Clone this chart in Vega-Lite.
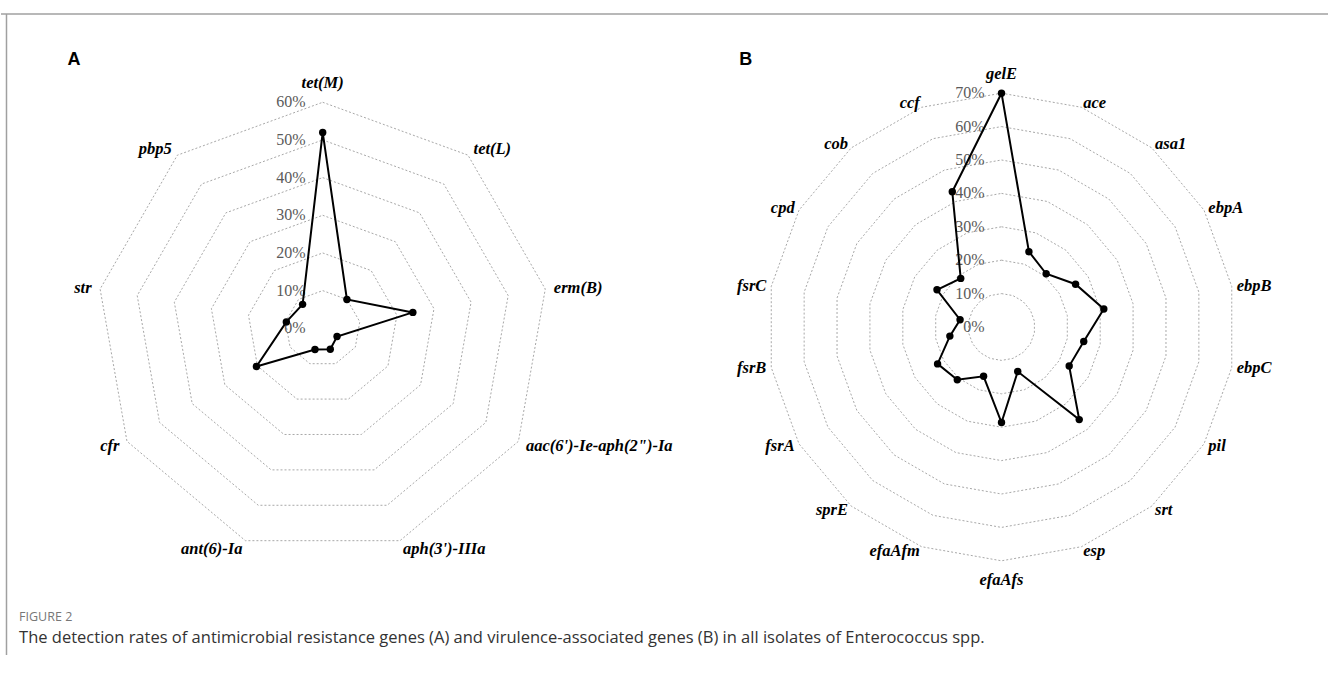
{
  "$schema": "https://vega.github.io/schema/vega-lite/v6.json",
  "background": "white",
  "padding": 0,
  "spacing": 0,
  "bounds": "flush",
  "config": {"view": {"stroke": null}},
  "hconcat": [
    {
      "width": 664,
      "height": 675,
      "data": {"values": [
        {"gene": "tet(M)", "rate": 52.0},
        {"gene": "tet(L)", "rate": 10.0},
        {"gene": "erm(B)", "rate": 24.3},
        {"gene": "aac(6')-Ie-aph(2\")-Ia", "rate": 4.4},
        {"gene": "aph(3')-IIIa", "rate": 5.9},
        {"gene": "ant(6)-Ia", "rate": 6.0},
        {"gene": "cfr", "rate": 20.3},
        {"gene": "str", "rate": 9.8},
        {"gene": "pbp5", "rate": 8.3}
      ]},
      "transform": [
        {"window": [{"op": "row_number", "as": "k"}]},
        {"calculate": "(datum.k - 1) * 2 * PI / 9", "as": "ang"},
        {"calculate": "datum.rate * sin(datum.ang)", "as": "px"},
        {"calculate": "datum.rate * cos(datum.ang)", "as": "py"},
        {"calculate": "abs(sin(datum.ang)) < 0.01 ? 65 : 62.3", "as": "lr"},
        {"calculate": "datum.lr * sin(datum.ang)", "as": "lx"},
        {"calculate": "datum.lr * cos(datum.ang)", "as": "ly"}
      ],
      "layer": [
        {
          "transform": [
            {"calculate": "[10,20,30,40,50,60]", "as": "lv"},
            {"flatten": ["lv"]},
            {"calculate": "datum.lv * sin(datum.ang)", "as": "rx"},
            {"calculate": "datum.lv * cos(datum.ang)", "as": "ry"}
          ],
          "mark": {"type": "line", "interpolate": "linear-closed", "stroke": "#a8a8a8", "strokeWidth": 1, "strokeDash": [2, 2]},
          "encoding": {
            "x": {"field": "rx", "type": "quantitative", "scale": {"domain": [-85.40, 90.87], "nice": false, "zero": false}, "axis": null},
            "y": {"field": "ry", "type": "quantitative", "scale": {"domain": [-92.04, 87.15], "nice": false, "zero": false}, "axis": null},
            "detail": {"field": "lv", "type": "nominal"},
            "order": {"field": "k", "type": "quantitative"}
          }
        },
        {
          "transform": [
            {"filter": "datum.k == 1"},
            {"calculate": "[0,10,20,30,40,50,60]", "as": "lv"},
            {"flatten": ["lv"]},
            {"calculate": "datum.lv + '%'", "as": "tl"}
          ],
          "mark": {"type": "text", "align": "right", "baseline": "middle", "dx": -17, "font": "Liberation Serif", "fontSize": 16, "color": "#5a5a5a"},
          "encoding": {
            "x": {"datum": 0, "type": "quantitative", "scale": {"domain": [-85.40, 90.87], "nice": false, "zero": false}, "axis": null},
            "y": {"field": "lv", "type": "quantitative", "scale": {"domain": [-92.04, 87.15], "nice": false, "zero": false}, "axis": null},
            "text": {"field": "tl"}
          }
        },
        {
          "mark": {"type": "line", "interpolate": "linear-closed", "stroke": "black", "strokeWidth": 2},
          "encoding": {
            "x": {"field": "px", "type": "quantitative", "scale": {"domain": [-85.40, 90.87], "nice": false, "zero": false}, "axis": null},
            "y": {"field": "py", "type": "quantitative", "scale": {"domain": [-92.04, 87.15], "nice": false, "zero": false}, "axis": null},
            "order": {"field": "k", "type": "quantitative"}
          }
        },
        {
          "mark": {"type": "point", "filled": true, "size": 55, "color": "black", "opacity": 1},
          "encoding": {
            "x": {"field": "px", "type": "quantitative", "scale": {"domain": [-85.40, 90.87], "nice": false, "zero": false}, "axis": null},
            "y": {"field": "py", "type": "quantitative", "scale": {"domain": [-92.04, 87.15], "nice": false, "zero": false}, "axis": null}
          }
        },
        {
          "transform": [{"filter": "sin(datum.ang) > 0.01"}],
          "mark": {"type": "text", "align": "left", "baseline": "middle", "font": "Liberation Serif", "fontSize": 16.5, "fontStyle": "italic", "fontWeight": "bold", "color": "black"},
          "encoding": {
            "x": {"field": "lx", "type": "quantitative", "scale": {"domain": [-85.40, 90.87], "nice": false, "zero": false}, "axis": null},
            "y": {"field": "ly", "type": "quantitative", "scale": {"domain": [-92.04, 87.15], "nice": false, "zero": false}, "axis": null},
            "text": {"field": "gene"}
          }
        },
        {
          "transform": [{"filter": "sin(datum.ang) < -0.01"}],
          "mark": {"type": "text", "align": "right", "baseline": "middle", "font": "Liberation Serif", "fontSize": 16.5, "fontStyle": "italic", "fontWeight": "bold", "color": "black"},
          "encoding": {
            "x": {"field": "lx", "type": "quantitative", "scale": {"domain": [-85.40, 90.87], "nice": false, "zero": false}, "axis": null},
            "y": {"field": "ly", "type": "quantitative", "scale": {"domain": [-92.04, 87.15], "nice": false, "zero": false}, "axis": null},
            "text": {"field": "gene"}
          }
        },
        {
          "transform": [{"filter": "abs(sin(datum.ang)) <= 0.01"}],
          "mark": {"type": "text", "align": "center", "baseline": "middle", "font": "Liberation Serif", "fontSize": 16.5, "fontStyle": "italic", "fontWeight": "bold", "color": "black"},
          "encoding": {
            "x": {"field": "lx", "type": "quantitative", "scale": {"domain": [-85.40, 90.87], "nice": false, "zero": false}, "axis": null},
            "y": {"field": "ly", "type": "quantitative", "scale": {"domain": [-92.04, 87.15], "nice": false, "zero": false}, "axis": null},
            "text": {"field": "gene"}
          }
        },
        {
          "data": {"values": [{"t": "A"}]},
          "mark": {"type": "text", "align": "center", "baseline": "middle", "font": "Liberation Sans", "fontSize": 18, "fontWeight": "bold", "color": "black"},
          "encoding": {
            "x": {"datum": -66.0, "type": "quantitative", "scale": {"domain": [-85.40, 90.87], "nice": false, "zero": false}, "axis": null},
            "y": {"datum": 71.2, "type": "quantitative", "scale": {"domain": [-92.04, 87.15], "nice": false, "zero": false}, "axis": null},
            "text": {"field": "t"}
          }
        },
        {
          "data": {"values": [{}]},
          "mark": {"type": "rule", "stroke": "#a0a0a0", "strokeWidth": 1.5},
          "encoding": {
            "x": {"datum": -85.40, "type": "quantitative", "scale": {"domain": [-85.40, 90.87], "nice": false, "zero": false}, "axis": null},
            "x2": {"datum": 90.87},
            "y": {"datum": 83.43, "type": "quantitative", "scale": {"domain": [-92.04, 87.15], "nice": false, "zero": false}, "axis": null}
          }
        },
        {
          "data": {"values": [{}]},
          "mark": {"type": "rule", "stroke": "#a0a0a0", "strokeWidth": 1.5},
          "encoding": {
            "x": {"datum": -83.94, "type": "quantitative", "scale": {"domain": [-85.40, 90.87], "nice": false, "zero": false}, "axis": null},
            "y": {"datum": 83.43, "type": "quantitative", "scale": {"domain": [-92.04, 87.15], "nice": false, "zero": false}, "axis": null},
            "y2": {"datum": -86.7}
          }
        },
        {
          "data": {"values": [{"t": "FIGURE 2"}]},
          "mark": {"type": "text", "align": "left", "baseline": "middle", "font": "Open Sans", "fontSize": 12.5, "color": "#777777"},
          "encoding": {
            "x": {"datum": -80.6, "type": "quantitative", "scale": {"domain": [-85.40, 90.87], "nice": false, "zero": false}, "axis": null},
            "y": {"datum": -76.6, "type": "quantitative", "scale": {"domain": [-92.04, 87.15], "nice": false, "zero": false}, "axis": null},
            "text": {"field": "t"}
          }
        },
        {
          "data": {"values": [{"t": "The detection rates of antimicrobial resistance genes (A) and virulence-associated genes (B) in all isolates of Enterococcus spp."}]},
          "mark": {"type": "text", "align": "left", "baseline": "middle", "font": "Open Sans", "fontSize": 16.5, "color": "#333333"},
          "encoding": {
            "x": {"datum": -80.6, "type": "quantitative", "scale": {"domain": [-85.40, 90.87], "nice": false, "zero": false}, "axis": null},
            "y": {"datum": -82.2, "type": "quantitative", "scale": {"domain": [-92.04, 87.15], "nice": false, "zero": false}, "axis": null},
            "text": {"field": "t"}
          }
        }
      ]
    },
    {
      "width": 664,
      "height": 675,
      "data": {"values": [
        {"gene": "gelE", "rate": 70.0},
        {"gene": "ace", "rate": 24.0},
        {"gene": "asa1", "rate": 20.8},
        {"gene": "ebpA", "rate": 25.6},
        {"gene": "ebpB", "rate": 31.1},
        {"gene": "ebpC", "rate": 25.0},
        {"gene": "pil", "rate": 23.4},
        {"gene": "srt", "rate": 36.2},
        {"gene": "esp", "rate": 14.2},
        {"gene": "efaAfs", "rate": 28.6},
        {"gene": "efaAfm", "rate": 15.7},
        {"gene": "sprE", "rate": 20.6},
        {"gene": "fsrA", "rate": 22.1},
        {"gene": "fsrB", "rate": 15.7},
        {"gene": "fsrC", "rate": 12.6},
        {"gene": "cpd", "rate": 22.3},
        {"gene": "cob", "rate": 19.0},
        {"gene": "ccf", "rate": 43.1}
      ]},
      "transform": [
        {"window": [{"op": "row_number", "as": "k"}]},
        {"calculate": "(datum.k - 1) * 2 * PI / 18", "as": "ang"},
        {"calculate": "datum.rate * sin(datum.ang)", "as": "px"},
        {"calculate": "datum.rate * cos(datum.ang)", "as": "py"},
        {"calculate": "abs(sin(datum.ang)) < 0.01 ? 75.7 : 71.5", "as": "lr"},
        {"calculate": "datum.lr * sin(datum.ang)", "as": "lx"},
        {"calculate": "datum.lr * cos(datum.ang)", "as": "ly"}
      ],
      "layer": [
        {
          "transform": [
            {"calculate": "[10,20,30,40,50,60,70]", "as": "lv"},
            {"flatten": ["lv"]},
            {"calculate": "datum.lv * sin(datum.ang)", "as": "rx"},
            {"calculate": "datum.lv * cos(datum.ang)", "as": "ry"}
          ],
          "mark": {"type": "line", "interpolate": "linear-closed", "stroke": "#a8a8a8", "strokeWidth": 1, "strokeDash": [2, 2]},
          "encoding": {
            "x": {"field": "rx", "type": "quantitative", "scale": {"domain": [-100.75, 98.05], "nice": false, "zero": false}, "axis": null},
            "y": {"field": "ry", "type": "quantitative", "scale": {"domain": [-104.19, 97.90], "nice": false, "zero": false}, "axis": null},
            "detail": {"field": "lv", "type": "nominal"},
            "order": {"field": "k", "type": "quantitative"}
          }
        },
        {
          "transform": [
            {"filter": "datum.k == 1"},
            {"calculate": "[0,10,20,30,40,50,60,70]", "as": "lv"},
            {"flatten": ["lv"]},
            {"calculate": "datum.lv + '%'", "as": "tl"}
          ],
          "mark": {"type": "text", "align": "right", "baseline": "middle", "dx": -17, "font": "Liberation Serif", "fontSize": 16, "color": "#5a5a5a"},
          "encoding": {
            "x": {"datum": 0, "type": "quantitative", "scale": {"domain": [-100.75, 98.05], "nice": false, "zero": false}, "axis": null},
            "y": {"field": "lv", "type": "quantitative", "scale": {"domain": [-104.19, 97.90], "nice": false, "zero": false}, "axis": null},
            "text": {"field": "tl"}
          }
        },
        {
          "mark": {"type": "line", "interpolate": "linear-closed", "stroke": "black", "strokeWidth": 2},
          "encoding": {
            "x": {"field": "px", "type": "quantitative", "scale": {"domain": [-100.75, 98.05], "nice": false, "zero": false}, "axis": null},
            "y": {"field": "py", "type": "quantitative", "scale": {"domain": [-104.19, 97.90], "nice": false, "zero": false}, "axis": null},
            "order": {"field": "k", "type": "quantitative"}
          }
        },
        {
          "mark": {"type": "point", "filled": true, "size": 55, "color": "black", "opacity": 1},
          "encoding": {
            "x": {"field": "px", "type": "quantitative", "scale": {"domain": [-100.75, 98.05], "nice": false, "zero": false}, "axis": null},
            "y": {"field": "py", "type": "quantitative", "scale": {"domain": [-104.19, 97.90], "nice": false, "zero": false}, "axis": null}
          }
        },
        {
          "transform": [{"filter": "sin(datum.ang) > 0.01"}],
          "mark": {"type": "text", "align": "left", "baseline": "middle", "font": "Liberation Serif", "fontSize": 16.5, "fontStyle": "italic", "fontWeight": "bold", "color": "black"},
          "encoding": {
            "x": {"field": "lx", "type": "quantitative", "scale": {"domain": [-100.75, 98.05], "nice": false, "zero": false}, "axis": null},
            "y": {"field": "ly", "type": "quantitative", "scale": {"domain": [-104.19, 97.90], "nice": false, "zero": false}, "axis": null},
            "text": {"field": "gene"}
          }
        },
        {
          "transform": [{"filter": "sin(datum.ang) < -0.01"}],
          "mark": {"type": "text", "align": "right", "baseline": "middle", "font": "Liberation Serif", "fontSize": 16.5, "fontStyle": "italic", "fontWeight": "bold", "color": "black"},
          "encoding": {
            "x": {"field": "lx", "type": "quantitative", "scale": {"domain": [-100.75, 98.05], "nice": false, "zero": false}, "axis": null},
            "y": {"field": "ly", "type": "quantitative", "scale": {"domain": [-104.19, 97.90], "nice": false, "zero": false}, "axis": null},
            "text": {"field": "gene"}
          }
        },
        {
          "transform": [{"filter": "abs(sin(datum.ang)) <= 0.01"}],
          "mark": {"type": "text", "align": "center", "baseline": "middle", "font": "Liberation Serif", "fontSize": 16.5, "fontStyle": "italic", "fontWeight": "bold", "color": "black"},
          "encoding": {
            "x": {"field": "lx", "type": "quantitative", "scale": {"domain": [-100.75, 98.05], "nice": false, "zero": false}, "axis": null},
            "y": {"field": "ly", "type": "quantitative", "scale": {"domain": [-104.19, 97.90], "nice": false, "zero": false}, "axis": null},
            "text": {"field": "gene"}
          }
        },
        {
          "data": {"values": [{"t": "B"}]},
          "mark": {"type": "text", "align": "center", "baseline": "middle", "font": "Liberation Sans", "fontSize": 18, "fontWeight": "bold", "color": "black"},
          "encoding": {
            "x": {"datum": -76.6, "type": "quantitative", "scale": {"domain": [-100.75, 98.05], "nice": false, "zero": false}, "axis": null},
            "y": {"datum": 79.9, "type": "quantitative", "scale": {"domain": [-104.19, 97.90], "nice": false, "zero": false}, "axis": null},
            "text": {"field": "t"}
          }
        },
        {
          "data": {"values": [{}]},
          "mark": {"type": "rule", "stroke": "#a0a0a0", "strokeWidth": 1.5},
          "encoding": {
            "x": {"datum": -100.75, "type": "quantitative", "scale": {"domain": [-100.75, 98.05], "nice": false, "zero": false}, "axis": null},
            "x2": {"datum": 98.05},
            "y": {"datum": 93.71, "type": "quantitative", "scale": {"domain": [-104.19, 97.90], "nice": false, "zero": false}, "axis": null}
          }
        }
      ]
    }
  ]
}
